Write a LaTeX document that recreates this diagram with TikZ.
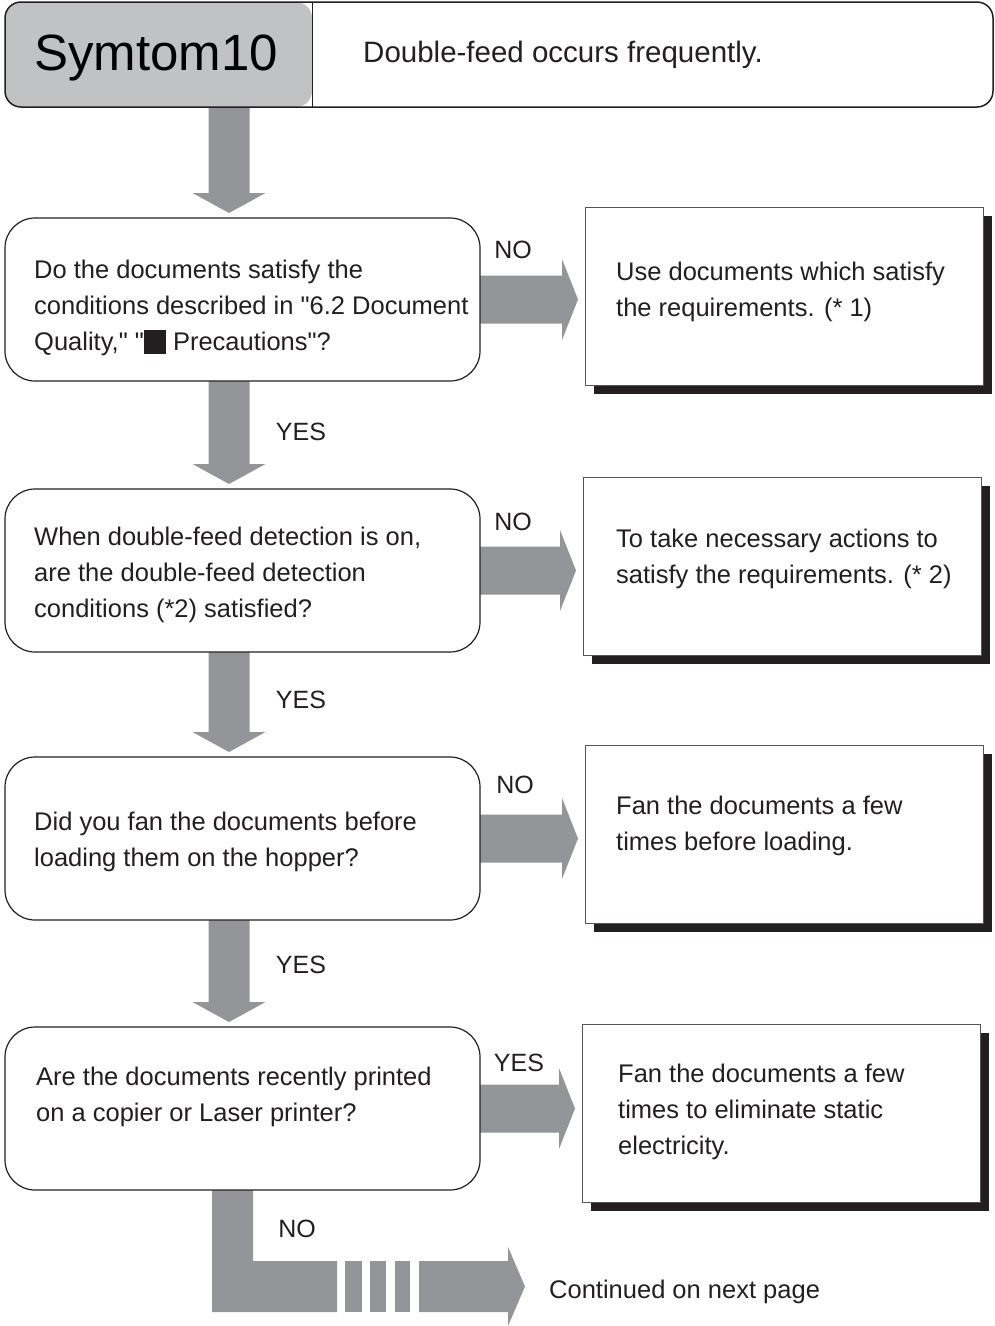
\documentclass[tikz,border=0pt]{standalone}
\usepackage{fontspec}
\setmainfont{Liberation Sans}[Ligatures=TeXOff]
\usetikzlibrary{calc,shadows,backgrounds}
\definecolor{arrowgray}{RGB}{148,149,152}
\definecolor{hdrgray}{RGB}{193,194,196}
\definecolor{ink}{RGB}{35,31,32}
\definecolor{boxline}{RGB}{85,85,85}
\newcommand{\arrdown}[2]{%
  \fill[arrowgray] ($(#1.south -| ax)+(-20.5,0)$) -- ($(#2.north -| ax)+(-20.5,-25)$)
    -- ($(#2.north -| ax)+(-36.5,-25)$) -- ($(#2.north -| ax)+(0,-5)$)
    -- ($(#2.north -| ax)+(36.5,-25)$) -- ($(#2.north -| ax)+(20.5,-25)$)
    -- ($(#1.south -| ax)+(20.5,0)$) -- cycle;}
\newcommand{\arrright}[2]{%
  \fill[arrowgray] ($(#1.east)+(0,-24)$) -- ($(#2.west |- #1.east)+(-23,-24)$)
    -- ($(#2.west |- #1.east)+(-23,-40.5)$) -- ($(#2.west |- #1.east)+(-7,0)$)
    -- ($(#2.west |- #1.east)+(-23,40.5)$) -- ($(#2.west |- #1.east)+(-23,24)$)
    -- ($(#1.east)+(0,24)$) -- cycle;}
\begin{document}
\begin{tikzpicture}[x=1pt,y=-1pt,
  dec/.style={draw=ink, line width=1.2pt, rounded corners=30pt, fill=white,
    minimum width=475pt, minimum height=163pt, anchor=north west, inner sep=0pt, outer sep=0pt},
  res/.style={draw=boxline, line width=1pt, fill=white,
    minimum width=398pt, minimum height=178pt, anchor=north west, inner sep=0pt, outer sep=0pt,
    drop shadow={shadow xshift=9pt, shadow yshift=-9pt, fill=ink, opacity=1}},
  txt/.style={anchor=west, align=left, inner sep=0pt, text=ink, font=\fontsize{25.5}{36}\selectfont},
  lbl/.style={inner sep=0pt, text=ink, font=\fontsize{25}{30}\selectfont}]
\useasboundingbox (0,0) rectangle (995,1326);
\coordinate (ax) at (229,0);

% header
\node[draw=ink, line width=1.5pt, rounded corners=16pt, fill=white,
  minimum width=988pt, minimum height=105pt, anchor=north west, inner sep=0pt, outer sep=0pt,
  path picture={\fill[hdrgray] (path picture bounding box.north west) rectangle ($(path picture bounding box.south west)+(307,0)$);
    \draw[ink, line width=1pt] ($(path picture bounding box.north west)+(307,0)$) -- ($(path picture bounding box.south west)+(307,0)$);}]
  (hdr) at (5,2) {};
\node[anchor=base west, inner sep=0pt, font=\fontsize{51}{60}\selectfont] (sym) at (34,70) {Symtom10};
\node[anchor=west, inner sep=0pt, text=ink, font=\fontsize{29.5}{36}\selectfont] (title) at (363,55) {Double-feed occurs frequently.};

% decision boxes
\node[dec] (d1) at (5,218) {};
\node[dec] (d2) at (5,489) {};
\node[dec] (d3) at (5,757) {};
\node[dec] (d4) at (5,1027) {};

% result boxes
\node[res] (r1) at (585,207) {};
\node[res] (r2) at (583,477) {};
\node[res] (r3) at (585,745) {};
\node[res] (r4) at (582,1024) {};

% texts
\node[txt] (t1) at (34,308) {Do the documents satisfy the\\conditions described in "6.2 Document\\Quality," "\raisebox{-3pt}{\rule{22pt}{24pt}} Precautions"?};
\node[txt] (t2) at (34,575) {When double-feed detection is on,\\are the double-feed detection\\conditions (*2) satisfied?};
\node[txt] (t3) at (34,842) {Did you fan the documents before\\loading them on the hopper?};
\node[txt] (t4) at (36,1097) {Are the documents recently printed\\on a copier or Laser printer?};
\node[txt] (u1) at (616,292) {Use documents which satisfy\\the requirements. (* 1)};
\node[txt] (u2) at (616,559) {To take necessary actions to\\satisfy the requirements. (* 2)};
\node[txt] (u3) at (616,826) {Fan the documents a few\\times before loading.};
\node[txt] (u4) at (618,1112) {Fan the documents a few\\times to eliminate static\\electricity.};

% arrows
\begin{scope}[on background layer]
\arrdown{hdr}{d1}
\arrdown{d1}{d2}
\arrdown{d2}{d3}
\arrdown{d3}{d4}
\arrright{d1}{r1}
\arrright{d2}{r2}
\arrright{d3}{r3}
\arrright{d4}{r4}
\coordinate (cont) at (525,1286.5);
\fill[arrowgray] ($(d4.south)+(-30.5,0)$) -- ++(0,122) -- ++(125,0) -- ++(0,-51) -- ++(-84,0) -- ++(0,-71) -- cycle;
\fill[arrowgray] (345,1261) rectangle (362,1312);
\fill[arrowgray] (370,1261) rectangle (386,1312);
\fill[arrowgray] (395,1261) rectangle (410,1312);
\fill[arrowgray] (419,1261) -- (508,1261) -- (508,1247) -- (cont) -- (508,1326) -- (508,1312) -- (419,1312) -- cycle;
\end{scope}

% labels
\node[lbl] (l1) at (513,250) {NO};
\node[lbl] (l2) at (301,432) {YES};
\node[lbl] (l3) at (513,522) {NO};
\node[lbl] (l4) at (301,700) {YES};
\node[lbl] (l5) at (515,785) {NO};
\node[lbl] (l6) at (301,965) {YES};
\node[lbl] (l7) at (519,1063) {YES};
\node[lbl] (l8) at (297,1229) {NO};
\node[txt] (cn) at (549,1292) {Continued on next page};
\end{tikzpicture}
\end{document}
